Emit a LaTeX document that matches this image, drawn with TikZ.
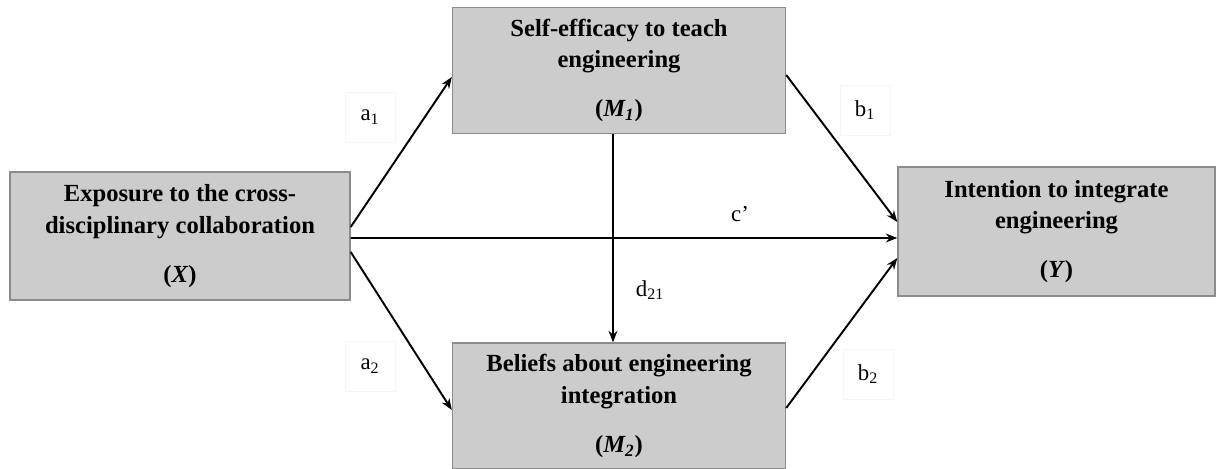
\documentclass[tikz,border=0pt]{standalone}
\usepackage{fontspec}
\setmainfont{Liberation Serif}
\usetikzlibrary{arrows.meta,calc}
\begin{document}
\begin{tikzpicture}[x=0.02cm,y=-0.02cm,
  varbox/.style={draw=black!45,line width=0.8pt,fill=black!20,align=center,inner sep=0pt,
    font=\bfseries\fontsize{14}{18}\selectfont},
  path/.style={line width=1.1pt,-{Stealth[length=6.5pt,width=5pt]}},
  coef/.style={draw=black!4,font=\fontsize{13}{15}\selectfont,minimum width=1cm,minimum height=1cm}]
\useasboundingbox (0,0) rectangle (1219,469);

% variables
\node[varbox,minimum width=340*0.02cm,minimum height=128*0.02cm] (X) at (180,236)
  {Exposure to the cross-\\disciplinary collaboration\\[10pt](\textit{X})};
\node[varbox,minimum width=333*0.02cm,minimum height=126*0.02cm] (M1) at (619,70.5)
  {Self-efficacy to teach\\engineering\\[10pt](\textit{M\textsubscript{1}})};
\node[varbox,minimum width=333*0.02cm,minimum height=126*0.02cm] (M2) at (619,406)
  {Beliefs about engineering\\integration\\[10pt](\textit{M\textsubscript{2}})};
\node[varbox,minimum width=317*0.02cm,minimum height=129*0.02cm] (Y) at (1056.5,231.5)
  {Intention to integrate\\engineering\\[10pt](\textit{Y})};

% coefficients
\node[coef] (a1) at (370,117) {a\textsubscript{1}};
\node[coef] (a2) at (370,366) {a\textsubscript{2}};
\node[coef] (b1) at (865,110) {b\textsubscript{1}};
\node[coef] (b2) at (868,374) {b\textsubscript{2}};
\node[coef,draw=none] (c) at (740,214) {c'};
\node[coef,draw=none] (d21) at (650,290) {d\textsubscript{21}};

% paths
\draw[path] ($(X.east)+(0,-9)$) -- ($(M1.west)+(0,6.5)$);
\draw[path] ($(X.east)+(0,16)$) -- ($(M2.west)+(0,4)$);
\draw[path] ($(X.east)+(0,2)$) -- ($(Y.west)+(0,6.5)$);
\draw[path] ($(M1.east)+(0,4.5)$) -- ($(Y.west)+(0,-9.5)$);
\draw[path] ($(M2.east)+(0,2)$) -- ($(Y.west)+(0,26.5)$);
\draw[path] ($(M1.south)+(-6,0)$) -- ($(M2.north)+(-6,0)$);
\end{tikzpicture}
\end{document}
